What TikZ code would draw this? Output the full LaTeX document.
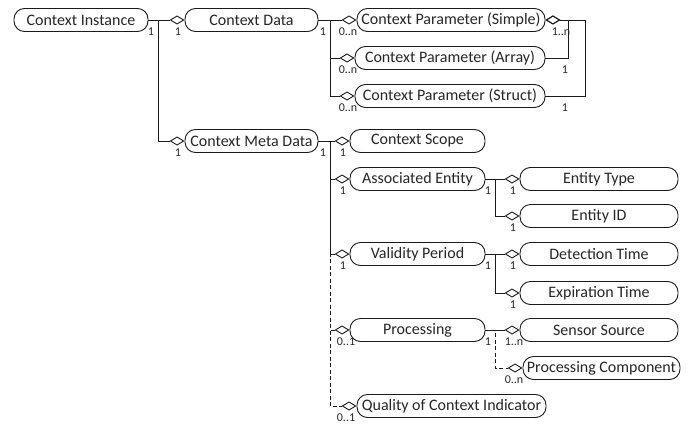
\documentclass[tikz,border=0pt]{standalone}
\usepackage{fontspec}
\setmainfont{Carlito}
\usetikzlibrary{arrows.meta,calc}
\definecolor{txt}{HTML}{262626}
\definecolor{ln}{HTML}{1A1A1A}
\begin{document}
\begin{tikzpicture}[x=1pt,y=-1pt,
  entity/.style={draw=ln, line width=0.9pt, rounded corners=10.5pt, minimum height=23pt,
    inner sep=0pt, font=\fontsize{16}{18}\selectfont, text=txt},
  agg/.style={draw=ln, line width=0.9pt, -{Diamond[open,length=15pt,width=9pt]}},
  aggstart/.style={draw=ln, line width=0.9pt, {Diamond[open,length=15pt,width=9pt]}-},
  opt/.style={dash pattern=on 4pt off 2.5pt},
  mult/.style={font=\fontsize{12}{13}\selectfont, text=txt, inner sep=0pt}
]
\useasboundingbox (0,0) rectangle (692,428);

% entities
\node[entity, minimum width=134pt] (ci)   at (81,20)    {Context Instance};
\node[entity, minimum width=133pt] (cd)   at (251.5,20) {Context Data};
\node[entity, minimum width=133pt] (cmd)  at (251.5,141) {Context Meta Data};
\node[entity, minimum width=188pt] (cps)  at (451,20)   {Context Parameter (Simple)};
\node[entity, minimum width=190pt] (cpa)  at (450,58)   {Context Parameter (Array)};
\node[entity, minimum width=190pt] (cpst) at (450,96)   {Context Parameter (Struct)};
\node[entity, minimum width=135pt] (cs)   at (417.5,141) {Context Scope};
\node[entity, minimum width=135pt] (ae)   at (417.5,179) {Associated Entity};
\node[entity, minimum width=158pt] (et)   at (599,179)  {Entity Type};
\node[entity, minimum width=158pt] (eid)  at (599,216)  {Entity ID};
\node[entity, minimum width=135pt] (vp)   at (417.5,254) {Validity Period};
\node[entity, minimum width=158pt] (dt)   at (599,254)  {Detection Time};
\node[entity, minimum width=158pt] (ext)  at (599,293)  {Expiration Time};
\node[entity, minimum width=135pt] (proc) at (417.5,330) {Processing};
\node[entity, minimum width=158pt] (ss)   at (599,330)  {Sensor Source};
\node[entity, minimum width=157pt] (pc)   at (601.5,368) {Processing Component};
\node[entity, minimum width=189pt] (qoc)  at (451.5,406) {Quality of Context Indicator};

% aggregations
\draw[agg] (ci.east) -- (cd.west);
\draw[agg] (ci.east) -- ++(10,0) |- (cmd.west);

\draw[agg] (cd.east) -- (cps.west);
\draw[agg] (cd.east) -- ++(12,0) |- (cpa.west);
\draw[agg] (cd.east) -- ++(12,0) |- (cpst.west);
\draw[aggstart] (cps.east) -- ++(23,0) |- (cpa.east);
\draw[aggstart] (cps.east) -- ++(40,0) |- (cpst.east);

\draw[agg] (cmd.east) -- (cs.west);
\draw[agg] (cmd.east) -- ++(12,0) |- (ae.west);
\draw[agg] (cmd.east) -- ++(12,0) |- (vp.west);
\draw[agg, opt] (cmd.east) -- ++(12,0) |- (proc.west);
\draw[agg, opt] (cmd.east) -- ++(12,0) |- (qoc.west);

\draw[agg] (ae.east) -- (et.west);
\draw[agg] (ae.east) -- ++(10,0) |- (eid.west);
\draw[agg] (vp.east) -- (dt.west);
\draw[agg] (vp.east) -- ++(10,0) |- (ext.west);
\draw[agg] (proc.east) -- (ss.west);
\draw[agg, opt] (proc.east) -- ++(10,0) |- (pc.west);

% multiplicities
\node[mult] (m01) at (151,32) {1};
\node[mult] (m02) at (178,32) {1};
\node[mult] (m03) at (178,153) {1};
\node[mult] (m04) at (323,32) {1};
\node[mult] (m05) at (348,32) {0..n};
\node[mult] (m06) at (348,70) {0..n};
\node[mult] (m07) at (348,108) {0..n};
\node[mult] (m08) at (561,32) {1..n};
\node[mult] (m09) at (565,70) {1};
\node[mult] (m10) at (565,108) {1};
\node[mult] (m11) at (323,153) {1};
\node[mult] (m12) at (343,153) {1};
\node[mult] (m13) at (343,191) {1};
\node[mult] (m14) at (488,191) {1};
\node[mult] (m15) at (513,191) {1};
\node[mult] (m16) at (513,228) {1};
\node[mult] (m17) at (343,266) {1};
\node[mult] (m18) at (488,266) {1};
\node[mult] (m19) at (513,266) {1};
\node[mult] (m20) at (513,305) {1};
\node[mult] (m21) at (346,342) {0..1};
\node[mult] (m22) at (488,342) {1};
\node[mult] (m23) at (514,342) {1..n};
\node[mult] (m24) at (514,380) {0..n};
\node[mult] (m25) at (346,418) {0..1};
\end{tikzpicture}
\end{document}
